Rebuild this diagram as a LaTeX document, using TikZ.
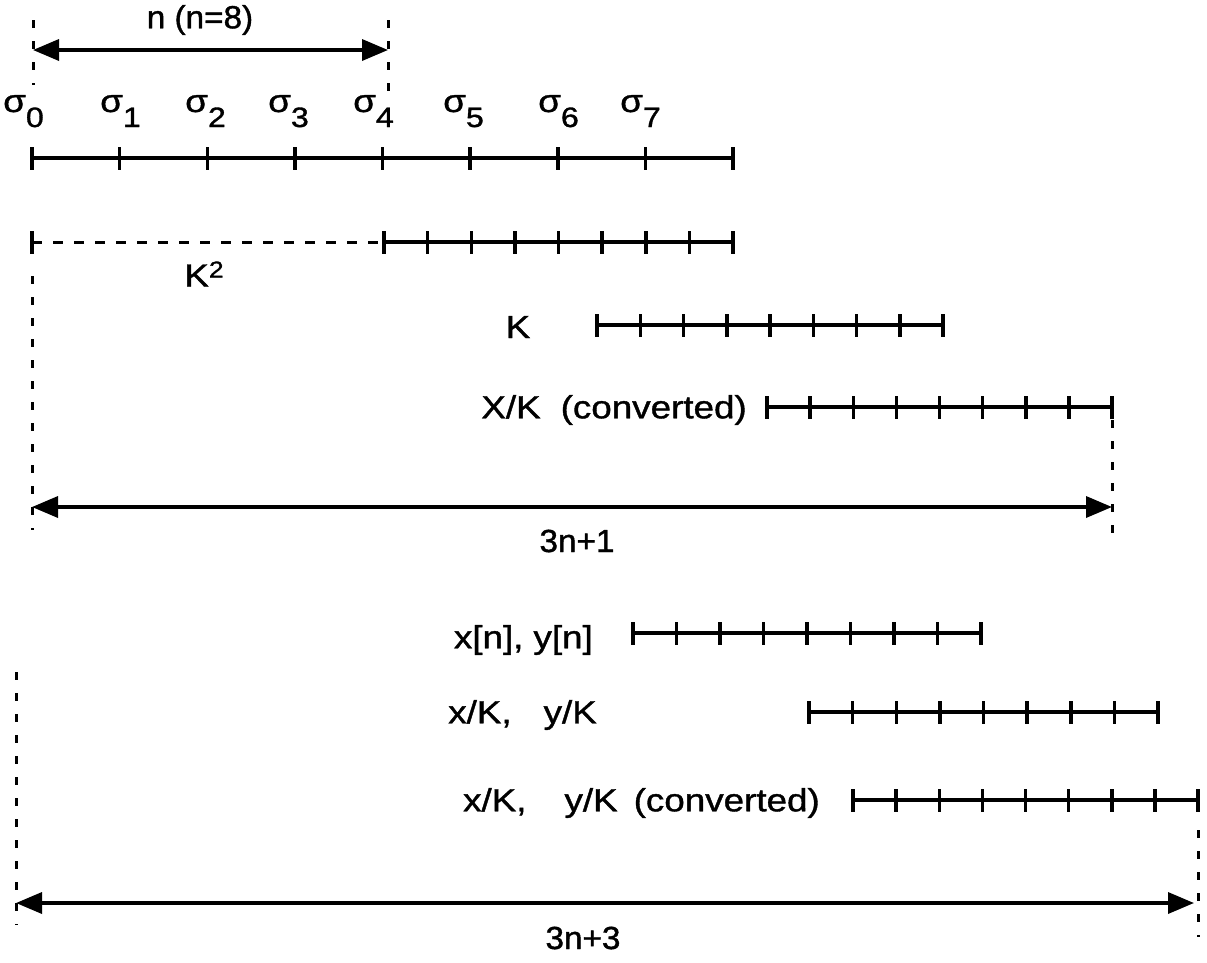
\documentclass[tikz,border=0pt]{standalone}
\usepackage{fontspec}
\setmainfont{Liberation Sans}[FakeStretch=1.15,FakeBold=1.2]
\newfontfamily\narrowfont{Liberation Sans}[FakeStretch=1.04,FakeBold=1.2]
\usetikzlibrary{arrows.meta}
\newcommand\tickbar[4]{%
  \draw[bar] (#1,#3) -- (#2,#3);
  \foreach \i in {0,...,#4} \draw[tickmark] ({#1+(#2-#1)*\i/#4},{#3-11}) -- ++(0,23);
}
\newcommand\sgm[1]{σ\raisebox{-15pt}{\fontsize{28}{30}\selectfont #1}}
\tikzset{
  bar/.style={line width=4pt},
  tickmark/.style={line width=3.5pt},
  dimarrow/.style={line width=3.5pt, {Triangle[length=26pt,width=21pt]}-{Triangle[length=26pt,width=21pt]}},
  dashv/.style={line width=3pt, dash pattern=on 8pt off 13pt},
  dashh/.style={line width=3pt, dash pattern=on 10pt off 11pt},
  lbl/.style={inner sep=0pt, font=\fontsize{32}{36}\selectfont},
  nlbl/.style={inner sep=0pt, font=\narrowfont\fontsize{32}{36}\selectfont},
}
\begin{document}
\begin{tikzpicture}[x=1pt,y=-1pt]
\useasboundingbox (0,0) rectangle (1207,962);
% top dimension n
\coordinate (nl) at (33,50);
\coordinate (nr) at (388,50);
\draw[dashv] (33,20) -- (33,85);
\draw[dashv] (388,20) -- (388,92);
\draw[dimarrow] (nl) -- (nr);
\node[nlbl] (nlab) at (200,20) {n (n=8)};
% sigma labels
\foreach \s/\x in {0/3,1/100,2/185,3/268,4/353,5/443,6/538,7/620}
  \node[lbl, anchor=base west] (sg\s) at (\x,112) {\sgm{\s}};
% row 1
\tickbar{32}{733}{158}{8}
% row 2 (K^2)
\draw[dashh] (32,242) -- (384,242);
\draw[tickmark] (32,231) -- (32,254);
\tickbar{384}{733}{242}{8}
\node[lbl] (k2) at (204,274) {K\raisebox{9pt}{\fontsize{23}{25}\selectfont 2}};
% row K
\tickbar{597}{943}{325}{8}
\node[lbl] (klab) at (518,327) {K};
% row X/K converted
\tickbar{767}{1112}{407}{8}
\node[lbl, anchor=east] (xk) at (747,410) {X/K\hspace{20pt}(converted)};
% 3n+1 dimension
\draw[dashv] (32,276) -- (32,530);
\draw[dashv] (1112,420) -- (1112,545);
\coordinate (al) at (32,507);
\coordinate (ar) at (1112,507);
\draw[dimarrow] (al) -- (ar);
\node[nlbl] (l3n1) at (577,541) {3n+1};
% bottom rows
\tickbar{633}{981}{633}{8}
\node[lbl, anchor=east] (xn) at (593,640) {x[n],\hspace{10pt}y[n]};
\tickbar{809}{1158}{712}{8}
\node[lbl, anchor=east] (xk2) at (597,715) {x/K,\hspace{32pt}y/K};
\tickbar{853}{1198}{800}{8}
\node[lbl, anchor=east] (xk3) at (820,803) {x/K,\hspace{38pt}y/K\hspace{16pt}(converted)};
% 3n+3 dimension
\draw[dashv] (16,672) -- (16,925);
\draw[dashv] (1198,830) -- (1198,937);
\coordinate (bl) at (16,903);
\coordinate (br) at (1194,903);
\draw[dimarrow] (bl) -- (br);
\node[nlbl] (l3n3) at (583,938) {3n+3};
\end{tikzpicture}
\end{document}
